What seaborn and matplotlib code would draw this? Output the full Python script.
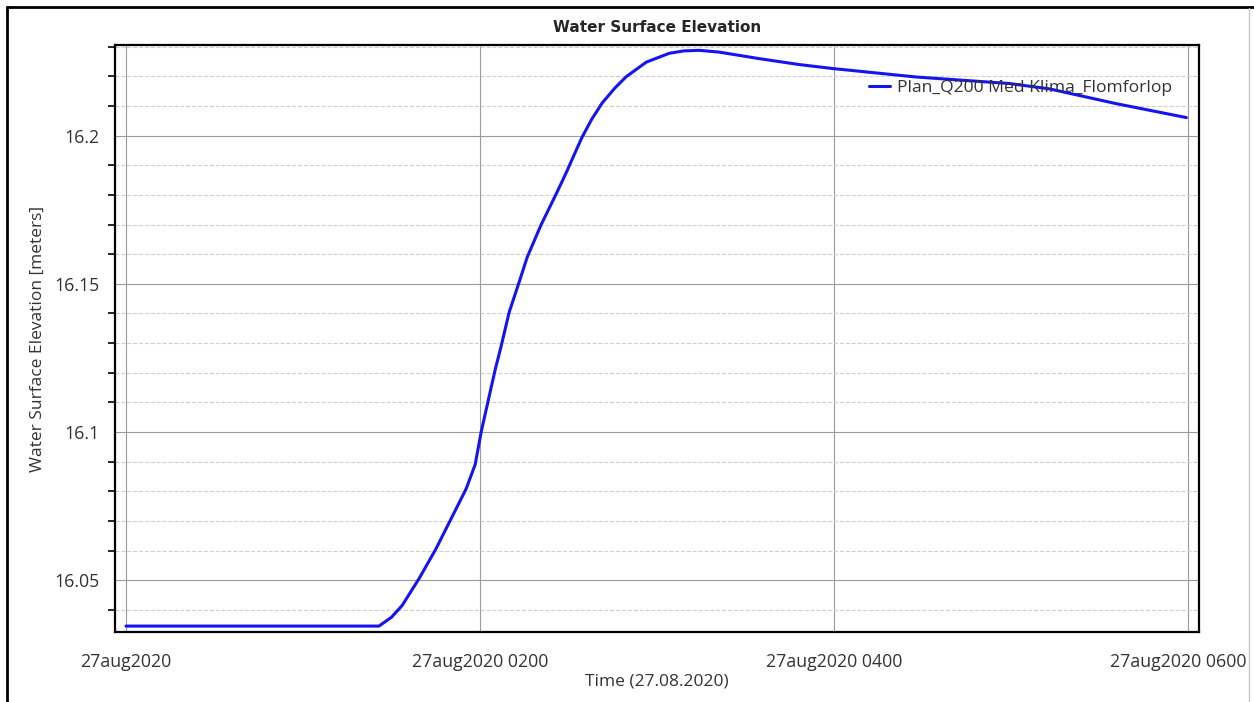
import numpy as np
import pandas as pd
import seaborn as sns
import matplotlib.pyplot as plt
from matplotlib.lines import Line2D
from matplotlib.ticker import MultipleLocator
from matplotlib.transforms import ScaledTranslation

# hours after 27aug2020 0000 and water surface elevation
hours = [0.0, 1.429, 1.50, 1.559, 1.655, 1.751, 1.836, 1.921, 1.972, 2.006,
         2.051, 2.085, 2.119, 2.164, 2.220, 2.266, 2.345, 2.435, 2.490, 2.542,
         2.576, 2.630, 2.689, 2.760, 2.825, 2.938, 3.068, 3.150, 3.237, 3.350,
         3.576, 3.802, 4.0, 4.463, 4.989, 5.215, 5.593, 5.989]
elevation = [16.0345, 16.0345, 16.0375, 16.0414, 16.0505, 16.0606, 16.0707,
             16.0808, 16.0890, 16.1000, 16.1120, 16.1210, 16.1290, 16.1404,
             16.1505, 16.1590, 16.1700, 16.1810, 16.1880, 16.1950, 16.1995,
             16.2055, 16.2110, 16.2160, 16.2199, 16.2248, 16.2278, 16.2286,
             16.2288, 16.2282, 16.2260, 16.2240, 16.2226, 16.2198, 16.2176,
             16.2158, 16.2108, 16.2061]
tick_hours = [0, 2, 4, 6]
tick_labels = ['27aug2020', '27aug2020 0200', '27aug2020 0400', '27aug2020 0600']
series_name = 'Plan_Q200 Med Klima_Flomforlop'

df = pd.DataFrame({'Hours': hours, 'Elevation': elevation})

sns.set_theme(style='white')
plt.rcParams['font.family'] = ['Open Sans', 'DejaVu Sans']

fig = plt.figure(figsize=(12.54, 7.02), dpi=100)
ax = fig.add_axes([115 / 1254, 1 - 632 / 702, (1199 - 115) / 1254, (632 - 45) / 702])

sns.lineplot(data=df, x='Hours', y='Elevation', ax=ax, color='#1414f0',
             linewidth=2.2, label=series_name)

ax.set_xlim(-0.062, 6.06)
ax.set_ylim(16.0325, 16.2306)
ax.set_xticks(tick_hours)
ax.set_xticklabels(tick_labels)
ax.yaxis.set_major_locator(MultipleLocator(0.05))
ax.yaxis.set_minor_locator(MultipleLocator(0.01))
ax.set_yticks([16.05, 16.1, 16.15, 16.2])
ax.set_yticklabels(['16.05', '16.1', '16.15', '16.2'])

ax.grid(which='major', axis='both', color='#9a9a9a', linewidth=0.8)
ax.grid(which='minor', axis='y', color='#cfcfcf', linewidth=0.8, linestyle='--')
ax.set_axisbelow(True)

ax.tick_params(axis='both', which='major', direction='out', length=7, width=1.2,
               color='black', labelsize=12.8, labelcolor='#333333')
ax.tick_params(axis='y', which='major', pad=4)
ax.tick_params(axis='x', which='major', pad=8)
ax.tick_params(axis='y', which='minor', direction='out', length=5, width=1.2,
               color='black', left=True)
for side in ax.spines.values():
    side.set_color('black')
    side.set_linewidth(1.6)

# last label sits at the right edge, nudge it in so it stays whole
last = ax.get_xticklabels()[-1]
last.set_transform(last.get_transform() + ScaledTranslation(-10 / 100, 0, fig.dpi_scale_trans))

ax.set_title('Water Surface Elevation', fontsize=11, fontweight='bold',
             family=['DejaVu Sans'], pad=9)
ax.set_xlabel('Time (27.08.2020)', fontsize=12.5, color='#333333', labelpad=2)
ax.set_ylabel('Water Surface Elevation [meters]', fontsize=12.5, color='#333333',
              labelpad=6)

ax.legend(loc='upper right', bbox_to_anchor=(0.99, 0.968), frameon=False,
          fontsize=12.6, handlelength=1.2, handletextpad=0.4,
          labelcolor='#333333')

# outer frame of the screenshot
fig.add_artist(Line2D([7 / 1254, 7 / 1254], [0, 1 - 7 / 702], color='black', linewidth=2))
fig.add_artist(Line2D([7 / 1254, 1], [1 - 7 / 702, 1 - 7 / 702], color='black', linewidth=2))
fig.add_artist(Line2D([1249 / 1254, 1249 / 1254], [0, 1 - 8 / 702], color='#c8c8c8', linewidth=1))

fig.savefig('out.png', dpi=100)
